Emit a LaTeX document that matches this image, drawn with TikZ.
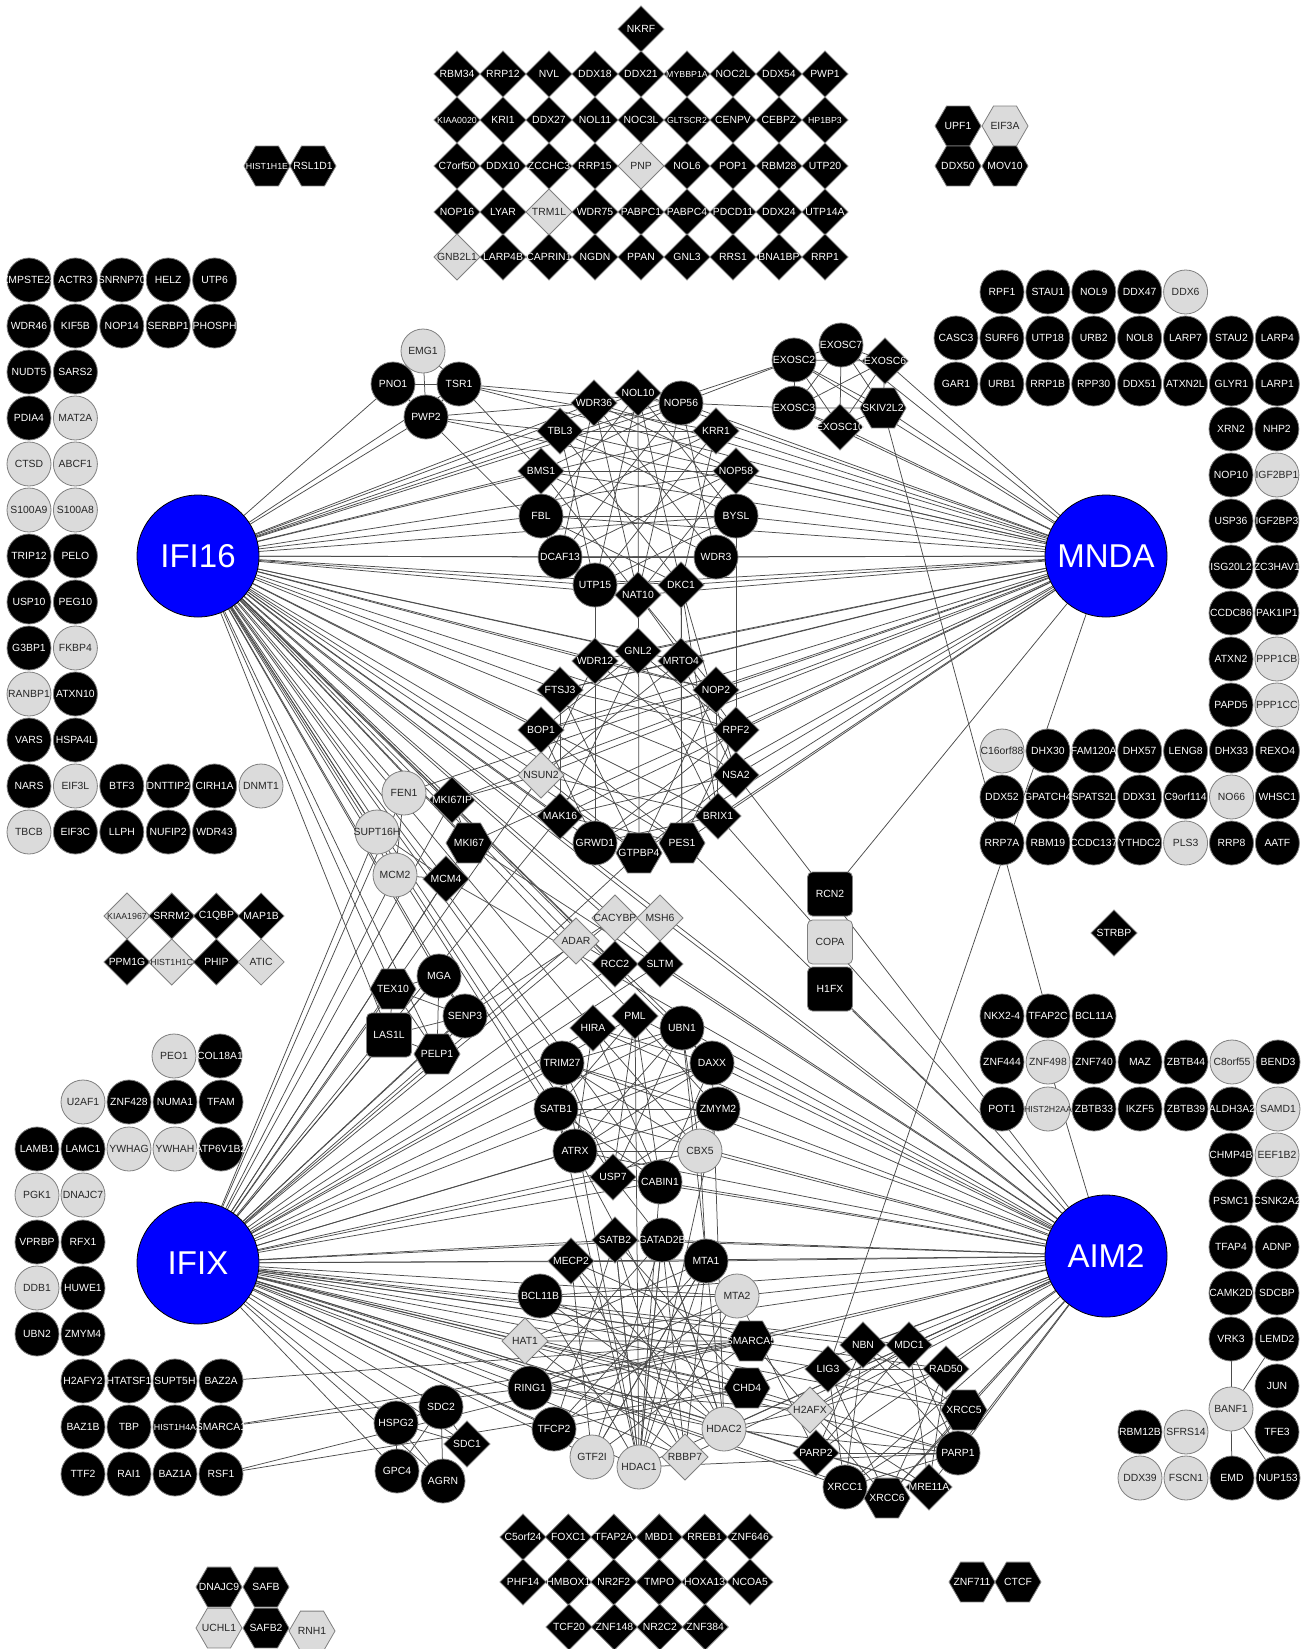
\documentclass[tikz,border=0pt]{standalone}
\usepackage{fontspec}
\setmainfont{Liberation Sans}
\usetikzlibrary{shapes.geometric}
\pgfdeclarelayer{edges}
\pgfsetlayers{edges,main}

\begin{document}
\begin{tikzpicture}[x=1pt, y=-1pt, font=\fontsize{10.4}{12}\selectfont]

% ---- Define Styles ----
\tikzset{
  gene/.style={draw=black!50, line width=0.8pt, inner sep=0pt, outer sep=0pt},
  onB/.style={gene, fill=black, text=white},
  onG/.style={gene, fill=gray!28, text=black!85},
  lsmall/.style={font=\fontsize{8.8}{10}\selectfont},
  circB/.style={onB, circle, minimum size=44},
  circG/.style={onG, circle, minimum size=44},
  circGs/.style={circG, lsmall},
  circBs/.style={circB, lsmall},
  diaB/.style={onB, diamond, aspect=1, minimum size=46},
  diaG/.style={onG, diamond, aspect=1, minimum size=46},
  diaBs/.style={diaB, lsmall},
  diaGs/.style={diaG, lsmall},
  hexB/.style={onB, regular polygon, regular polygon sides=6, minimum size=46},
  hexG/.style={onG, regular polygon, regular polygon sides=6, minimum size=46},
  hexBs/.style={hexB, lsmall},
  sqB/.style={onB, rectangle, rounded corners=5pt, minimum width=45, minimum height=44},
  sqG/.style={onG, rectangle, rounded corners=5pt, minimum width=45, minimum height=44},
  hub/.style={circle, draw=black, line width=0.8pt, fill=blue, text=white,
    minimum size=122, inner sep=0pt, font=\fontsize{33}{36}\selectfont},
  link/.style={draw=black!70, line width=0.75pt}
}

% label with no width, so the shape keeps its size
\newcommand{\lbl}[1]{\makebox[0pt]{#1}}
% one row of genes: [step]{x0}{y}{name/style, ...}
\newcommand{\generow}[4][46]{%
  \foreach \nm/\st [count=\i from 0] in {#4}
    \node[\st] (\nm) at (#2+#1*\i, #3) {\lbl{\nm}};%
}

\useasboundingbox (0,0) rectangle (1313,1649);

% =========================================================
% HUBS
% =========================================================
\node[hub] (IFI16) at (198, 556) {IFI16};
\node[hub] (MNDA) at (1106, 556) {MNDA};
\node[hub] (IFIX) at (198, 1263) {IFIX};
\node[hub] (AIM2) at (1106, 1256) {AIM2};

% =========================================================
% TOP LEFT BLOCK
% =========================================================
\generow[46.4]{29}{280}{ZMPSTE24/circB, ACTR3/circB, SNRNP70/circB, HELZ/circB, UTP6/circB}
\generow[46.4]{29}{326}{WDR46/circB, KIF5B/circB, NOP14/circB, SERBP1/circB, PHOSPH/circB}
\generow[46.4]{29}{372}{NUDT5/circB, SARS2/circB}
\generow[46.4]{29}{418}{PDIA4/circB, MAT2A/circG}
\generow[46.4]{29}{464}{CTSD/circG, ABCF1/circG}
\generow[46.4]{29}{510}{S100A9/circG, S100A8/circG}
\generow[46.4]{29}{556}{TRIP12/circB, PELO/circB}
\generow[46.4]{29}{602}{USP10/circB, PEG10/circB}
\generow[46.4]{29}{648}{G3BP1/circB, FKBP4/circG}
\generow[46.4]{29}{694}{RANBP1/circG, ATXN10/circB}
\generow[46.4]{29}{740}{VARS/circB, HSPA4L/circB}
\generow[46.4]{29}{786}{NARS/circB, EIF3L/circG, BTF3/circB, DNTTIP2/circB, CIRH1A/circB, DNMT1/circG}
\generow[46.4]{29}{832}{TBCB/circG, EIF3C/circB, LLPH/circB, NUFIP2/circB, WDR43/circB}

% =========================================================
% TOP DIAMOND BLOCK
% =========================================================
\node[diaB] (NKRF) at (641, 29) {\lbl{NKRF}};
\generow{457}{74}{RBM34/diaB, RRP12/diaB, NVL/diaB, DDX18/diaB, DDX21/diaB, MYBBP1A/diaBs, NOC2L/diaB, DDX54/diaB, PWP1/diaB}
\generow{457}{120}{KIAA0020/diaBs, KRI1/diaB, DDX27/diaB, NOL11/diaB, NOC3L/diaB, GLTSCR2/diaBs, CENPV/diaB, CEBPZ/diaB, HP1BP3/diaBs}
\generow{457}{166}{C7orf50/diaB, DDX10/diaB, ZCCHC3/diaB, RRP15/diaB, PNP/diaG, NOL6/diaB, POP1/diaB, RBM28/diaB, UTP20/diaB}
\generow{457}{212}{NOP16/diaB, LYAR/diaB, TRM1L/diaG, WDR75/diaB, PABPC1/diaB, PABPC4/diaB, PDCD11/diaB, DDX24/diaB, UTP14A/diaB}
\generow{457}{257}{GNB2L1/diaG, LARP4B/diaB, CAPRIN1/diaB, NGDN/diaB, PPAN/diaB, GNL3/diaB, RRS1/diaB, BNA1BP/diaB, RRP1/diaB}

% small hexagon groups
\node[hexBs] (HIST1H1E) at (267, 166) {\lbl{HIST1H1E}};
\node[hexB] (RSL1D1) at (313, 166) {\lbl{RSL1D1}};
\node[hexB] (UPF1) at (958, 126) {\lbl{UPF1}};
\node[hexG] (EIF3A) at (1005, 126) {\lbl{EIF3A}};
\node[hexB] (DDX50) at (958, 166) {\lbl{DDX50}};
\node[hexB] (MOV10) at (1005, 166) {\lbl{MOV10}};

% =========================================================
% TOP RIGHT BLOCK
% =========================================================
\generow[45.9]{1002}{292}{RPF1/circB, STAU1/circB, NOL9/circB, DDX47/circB, DDX6/circG}
\generow[45.9]{956}{338}{CASC3/circB, SURF6/circB, UTP18/circB, URB2/circB, NOL8/circB, LARP7/circB, STAU2/circB, LARP4/circB}
\generow[45.9]{956}{384}{GAR1/circB, URB1/circB, RRP1B/circB, RPP30/circB, DDX51/circB, ATXN2L/circB, GLYR1/circB, LARP1/circB}
\generow[45.9]{1231}{429}{XRN2/circB, NHP2/circB}
\generow[45.9]{1231}{475}{NOP10/circB, IGF2BP1/circG}
\generow[45.9]{1231}{521}{USP36/circB, IGF2BP3/circB}
\generow[45.9]{1231}{567}{ISG20L2/circB, ZC3HAV1/circB}
\generow[45.9]{1231}{613}{CCDC86/circB, PAK1IP1/circB}
\generow[45.9]{1231}{659}{ATXN2/circB, PPP1CB/circG}
\generow[45.9]{1231}{705}{PAPD5/circB, PPP1CC/circG}
\generow[45.9]{1002}{751}{C16orf88/circG, DHX30/circB, FAM120A/circB, DHX57/circB, LENG8/circB, DHX33/circB, REXO4/circB}
\generow[45.9]{1002}{797}{DDX52/circB, GPATCH4/circB, SPATS2L/circB, DDX31/circB, C9orf114/circB, NO66/circG, WHSC1/circB}
\generow[45.9]{1002}{843}{RRP7A/circB, RBM19/circB, CCDC137/circB, YTHDC2/circB, PLS3/circG, RRP8/circB, AATF/circB}

\node[diaB] (STRBP) at (1114, 933) {\lbl{STRBP}};

% =========================================================
% BOTTOM RIGHT BLOCK
% =========================================================
\generow{1002}{1016}{NKX2-4/circB, TFAP2C/circB, BCL11A/circB}
\generow{1002}{1062}{ZNF444/circB, ZNF498/circG, ZNF740/circB, MAZ/circB, ZBTB44/circB, C8orf55/circG, BEND3/circB}
\generow{1002}{1109}{POT1/circB, HIST2H2AA/circGs, ZBTB33/circB, IKZF5/circB, ZBTB39/circB, ALDH3A2/circB, SAMD1/circG}
\generow{1231}{1155}{CHMP4B/circB, EEF1B2/circG}
\generow{1231}{1201}{PSMC1/circB, CSNK2A2/circB}
\generow{1231}{1247}{TFAP4/circB, ADNP/circB}
\generow{1231}{1293}{CAMK2D/circB, SDCBP/circB}
\generow{1231}{1339}{VRK3/circB, LEMD2/circB}
\node[circB] (JUN) at (1277, 1386) {\lbl{JUN}};
\node[circG] (BANF1) at (1231, 1409) {\lbl{BANF1}};
\node[circB] (RBM12B) at (1140, 1432) {\lbl{RBM12B}};
\node[circG] (SFRS14) at (1186, 1432) {\lbl{SFRS14}};
\node[circB] (TFE3) at (1277, 1432) {\lbl{TFE3}};
\generow{1140}{1478}{DDX39/circG, FSCN1/circG, EMD/circB, NUP153/circB}

\node[hexB] (ZNF711) at (972, 1582) {\lbl{ZNF711}};
\node[hexB] (CTCF) at (1018, 1582) {\lbl{CTCF}};

% =========================================================
% LEFT LOWER BLOCK
% =========================================================
\generow[44.7]{127}{916}{KIAA1967/diaGs, SRRM2/diaB, C1QBP/diaB, MAP1B/diaB}
\generow[44.7]{127}{962}{PPM1G/diaB, HIST1H1C/diaGs, PHIP/diaB, ATIC/diaG}
\generow{174}{1056}{PEO1/circG, COL18A1/circB}
\generow{83}{1102}{U2AF1/circG, ZNF428/circB, NUMA1/circB, TFAM/circB}
\generow{37}{1149}{LAMB1/circB, LAMC1/circB, YWHAG/circG, YWHAH/circG, ATP6V1B2/circB}
\generow{37}{1195}{PGK1/circG, DNAJC7/circG}
\generow{37}{1242}{VPRBP/circB, RFX1/circB}
\generow{37}{1288}{DDB1/circG, HUWE1/circB}
\generow{37}{1334}{UBN2/circB, ZMYM4/circB}
\generow{83}{1381}{H2AFY2/circB, HTATSF1/circB, SUPT5H/circB, BAZ2A/circB}
\generow{83}{1427}{BAZ1B/circB, TBP/circB, HIST1H4A/circBs, SMARCA1/circB}
\generow{83}{1474}{TTF2/circB, RAI1/circB, BAZ1A/circB, RSF1/circB}

\node[hexB] (DNAJC9) at (219, 1587) {\lbl{DNAJC9}};
\node[hexB] (SAFB) at (266, 1587) {\lbl{SAFB}};
\node[hexG] (UCHL1) at (219, 1628) {\lbl{UCHL1}};
\node[hexB] (SAFB2) at (266, 1628) {\lbl{SAFB2}};
\node[hexG] (RNH1) at (312, 1631) {\lbl{RNH1}};

% bottom diamond block
\generow[45.4]{523}{1537}{C5orf24/diaB, FOXC1/diaB, TFAP2A/diaB, MBD1/diaB, RREB1/diaB, ZNF646/diaB}
\generow[45.4]{523}{1582}{PHF14/diaB, HMBOX1/diaB, NR2F2/diaB, TMPO/diaB, HOXA13/diaB, NCOA5/diaB}
\generow[45.4]{569}{1627}{TCF20/diaB, ZNF148/diaB, NR2C2/diaB, ZNF384/diaB}

% =========================================================
% CENTRE: NUCLEOLAR GROUPS
% =========================================================
\node[circG] (EMG1) at (423, 351) {\lbl{EMG1}};
\node[circB] (PNO1) at (393, 384) {\lbl{PNO1}};
\node[circB] (TSR1) at (459, 384) {\lbl{TSR1}};
\node[circB] (PWP2) at (426, 417) {\lbl{PWP2}};

\node[circB] (EXOSC2) at (794, 360) {\lbl{EXOSC2}};
\node[circB] (EXOSC7) at (841, 345) {\lbl{EXOSC7}};
\node[diaB] (EXOSC6) at (885, 361) {\lbl{EXOSC6}};
\node[circB] (EXOSC3) at (794, 408) {\lbl{EXOSC3}};
\node[hexB] (SKIV2L2) at (883, 408) {\lbl{SKIV2L2}};
\node[diaB] (EXOSC10) at (840, 427) {\lbl{EXOSC10}};

% ring A
\node[diaB, alias=ra0] (NOL10) at (638, 393) {\lbl{NOL10}};
\node[circB, alias=ra1] (NOP56) at (681, 403) {\lbl{NOP56}};
\node[diaB, alias=ra2] (KRR1) at (716, 431) {\lbl{KRR1}};
\node[diaB, alias=ra3] (NOP58) at (736, 471) {\lbl{NOP58}};
\node[circB, alias=ra4] (BYSL) at (736, 516) {\lbl{BYSL}};
\node[circB, alias=ra5] (WDR3) at (716, 557) {\lbl{WDR3}};
\node[diaB, alias=ra6] (DKC1) at (681, 585) {\lbl{DKC1}};
\node[diaB, alias=ra7] (NAT10) at (638, 595) {\lbl{NAT10}};
\node[circB, alias=ra8] (UTP15) at (595, 585) {\lbl{UTP15}};
\node[circB, alias=ra9] (DCAF13) at (560, 557) {\lbl{DCAF13}};
\node[circB, alias=ra10] (FBL) at (541, 516) {\lbl{FBL}};
\node[diaB, alias=ra11] (BMS1) at (541, 471) {\lbl{BMS1}};
\node[diaB, alias=ra12] (TBL3) at (560, 431) {\lbl{TBL3}};
\node[diaB, alias=ra13] (WDR36) at (594, 403) {\lbl{WDR36}};

% ring B
\node[diaB, alias=rb0] (GNL2) at (638, 651) {\lbl{GNL2}};
\node[diaB, alias=rb1] (MRTO4) at (681, 661) {\lbl{MRTO4}};
\node[diaB, alias=rb2] (NOP2) at (716, 690) {\lbl{NOP2}};
\node[diaB, alias=rb3] (RPF2) at (736, 730) {\lbl{RPF2}};
\node[diaB, alias=rb4] (NSA2) at (736, 775) {\lbl{NSA2}};
\node[diaB, alias=rb5] (BRIX1) at (718, 816) {\lbl{BRIX1}};
\node[hexB, alias=rb6] (PES1) at (682, 843) {\lbl{PES1}};
\node[hexB, alias=rb7] (GTPBP4) at (639, 853) {\lbl{GTPBP4}};
\node[circB, alias=rb8] (GRWD1) at (595, 843) {\lbl{GRWD1}};
\node[diaB, alias=rb9] (MAK16) at (560, 816) {\lbl{MAK16}};
\node[diaG, alias=rb10] (NSUN2) at (541, 775) {\lbl{NSUN2}};
\node[diaB, alias=rb11] (BOP1) at (541, 730) {\lbl{BOP1}};
\node[diaB, alias=rb12] (FTSJ3) at (560, 690) {\lbl{FTSJ3}};
\node[diaB, alias=rb13] (WDR12) at (595, 661) {\lbl{WDR12}};

% left of ring B
\node[circG] (FEN1) at (404, 793) {\lbl{FEN1}};
\node[diaB] (MKI67IP) at (452, 800) {\lbl{MKI67IP}};
\node[circG] (SUPT16H) at (377, 832) {\lbl{SUPT16H}};
\node[hexB] (MKI67) at (469, 843) {\lbl{MKI67}};
\node[circG] (MCM2) at (395, 875) {\lbl{MCM2}};
\node[diaB] (MCM4) at (446, 879) {\lbl{MCM4}};

\node[hexB] (TEX10) at (393, 989) {\lbl{TEX10}};
\node[circB] (MGA) at (439, 976) {\lbl{MGA}};
\node[sqB] (LAS1L) at (389, 1035) {\lbl{LAS1L}};
\node[circB] (SENP3) at (465, 1016) {\lbl{SENP3}};
\node[hexB] (PELP1) at (437, 1054) {\lbl{PELP1}};

% middle singles
\node[diaG] (CACYBP) at (615, 918) {\lbl{CACYBP}};
\node[diaG] (MSH6) at (660, 918) {\lbl{MSH6}};
\node[diaG] (ADAR) at (576, 941) {\lbl{ADAR}};
\node[diaB] (RCC2) at (615, 964) {\lbl{RCC2}};
\node[diaB] (SLTM) at (660, 964) {\lbl{SLTM}};
\node[sqB] (RCN2) at (830, 894) {\lbl{RCN2}};
\node[sqG] (COPA) at (830, 942) {\lbl{COPA}};
\node[sqB] (H1FX) at (830, 989) {\lbl{H1FX}};

% =========================================================
% CENTRE: CHROMATIN GROUPS
% =========================================================
% ring C
\node[diaB, alias=rc0] (PML) at (635, 1016) {\lbl{PML}};
\node[circB, alias=rc1] (UBN1) at (682, 1028) {\lbl{UBN1}};
\node[circB, alias=rc2] (DAXX) at (712, 1063) {\lbl{DAXX}};
\node[circB, alias=rc3] (ZMYM2) at (718, 1109) {\lbl{ZMYM2}};
\node[circG, alias=rc4] (CBX5) at (700, 1151) {\lbl{CBX5}};
\node[circB, alias=rc5] (CABIN1) at (660, 1182) {\lbl{CABIN1}};
\node[diaB, alias=rc6] (USP7) at (613, 1177) {\lbl{USP7}};
\node[circB, alias=rc7] (ATRX) at (575, 1151) {\lbl{ATRX}};
\node[circB, alias=rc8] (SATB1) at (556, 1109) {\lbl{SATB1}};
\node[circB, alias=rc9] (TRIM27) at (562, 1063) {\lbl{TRIM27}};
\node[diaB, alias=rc10] (HIRA) at (593, 1028) {\lbl{HIRA}};

% ring D
\node[diaB, alias=rd0] (SATB2) at (615, 1240) {\lbl{SATB2}};
\node[circB, alias=rd1] (GATAD2B) at (662, 1240) {\lbl{GATAD2B}};
\node[circB, alias=rd2] (MTA1) at (706, 1261) {\lbl{MTA1}};
\node[circG, alias=rd3] (MTA2) at (737, 1296) {\lbl{MTA2}};
\node[hexB, alias=rd4] (SMARCA5) at (751, 1341) {\lbl{SMARCA5}};
\node[hexB, alias=rd5] (CHD4) at (747, 1388) {\lbl{CHD4}};
\node[circG, alias=rd6] (HDAC2) at (724, 1429) {\lbl{HDAC2}};
\node[diaG, alias=rd7] (RBBP7) at (685, 1457) {\lbl{RBBP7}};
\node[circG, alias=rd8] (HDAC1) at (639, 1467) {\lbl{HDAC1}};
\node[circG, alias=rd9] (GTF2I) at (592, 1457) {\lbl{GTF2I}};
\node[circB, alias=rd10] (TFCP2) at (554, 1429) {\lbl{TFCP2}};
\node[circB, alias=rd11] (RING1) at (530, 1388) {\lbl{RING1}};
\node[diaG, alias=rd12] (HAT1) at (525, 1341) {\lbl{HAT1}};
\node[circB, alias=rd13] (BCL11B) at (540, 1296) {\lbl{BCL11B}};
\node[diaB, alias=rd14] (MECP2) at (571, 1261) {\lbl{MECP2}};

\node[circB] (SDC2) at (441, 1407) {\lbl{SDC2}};
\node[circB] (HSPG2) at (396, 1423) {\lbl{HSPG2}};
\node[diaB] (SDC1) at (467, 1444) {\lbl{SDC1}};
\node[circB] (GPC4) at (397, 1471) {\lbl{GPC4}};
\node[circB] (AGRN) at (443, 1481) {\lbl{AGRN}};

% ring E
\node[diaB, alias=re0] (NBN) at (863, 1345) {\lbl{NBN}};
\node[diaB, alias=re1] (MDC1) at (909, 1345) {\lbl{MDC1}};
\node[diaB, alias=re2] (RAD50) at (946, 1369) {\lbl{RAD50}};
\node[hexB, alias=re3] (XRCC5) at (964, 1410) {\lbl{XRCC5}};
\node[circB, alias=re4] (PARP1) at (958, 1453) {\lbl{PARP1}};
\node[diaB, alias=re5] (MRE11A) at (929, 1487) {\lbl{MRE11A}};
\node[hexB, alias=re6] (XRCC6) at (887, 1498) {\lbl{XRCC6}};
\node[circB, alias=re7] (XRCC1) at (845, 1487) {\lbl{XRCC1}};
\node[diaB, alias=re8] (PARP2) at (816, 1453) {\lbl{PARP2}};
\node[diaG, alias=re9] (H2AFX) at (810, 1410) {\lbl{H2AFX}};
\node[diaB, alias=re10] (LIG3) at (828, 1369) {\lbl{LIG3}};

% =========================================================
% CONNECTORS (behind the nodes)
% =========================================================
\begin{pgfonlayer}{edges}
\fill[white] (0,0) rectangle (1313,1649);

% hub fans
\foreach \t in {PNO1, PWP2, TSR1, WDR36, NOL10, NOP56, TBL3, KRR1, BMS1, NOP58, FBL, BYSL,
  DCAF13, WDR3, UTP15, NAT10, DKC1, EXOSC2, GNL2, WDR12, MRTO4, FTSJ3, NOP2, BOP1, RPF2,
  NSUN2, NSA2, MAK16, BRIX1, GRWD1, GTPBP4, PES1, FEN1, MKI67IP, SUPT16H, MCM2, MCM4, MKI67,
  TEX10, MGA, LAS1L, SENP3, PELP1, CACYBP, ADAR, RCC2, MSH6, SLTM, HIRA, TRIM27, SATB1,
  ATRX, USP7, CABIN1, PML, UBN1, DAXX, AIM2}
  \draw[link] (IFI16) -- (\t);
\foreach \t in {TSR1, PWP2, EXOSC2, EXOSC7, EXOSC6, EXOSC3, EXOSC10, SKIV2L2, WDR36, NOL10,
  NOP56, TBL3, KRR1, BMS1, NOP58, FBL, BYSL, DCAF13, WDR3, UTP15, NAT10, DKC1, GNL2, WDR12,
  MRTO4, FTSJ3, NOP2, BOP1, RPF2, NSUN2, NSA2, MAK16, BRIX1, GRWD1, GTPBP4, PES1, MKI67IP,
  MKI67, FEN1, RCN2, LIG3}
  \draw[link] (MNDA) -- (\t);
\foreach \t in {FEN1, SUPT16H, MCM2, MKI67IP, MCM4, MKI67, TEX10, MGA, LAS1L, SENP3, PELP1,
  ADAR, CACYBP, RCC2, SLTM, NSUN2, MAK16, GTPBP4, HIRA, PML, UBN1, TRIM27, SATB1, ATRX, USP7,
  CABIN1, DAXX, ZMYM2, CBX5, SATB2, GATAD2B, MECP2, MTA1, BCL11B, MTA2, HAT1, SMARCA5, RING1,
  CHD4, TFCP2, HDAC2, GTF2I, HDAC1, RBBP7, SDC2, HSPG2, SDC1, GPC4, AGRN, LIG3, NBN, MDC1,
  H2AFX, PARP2, XRCC1, XRCC6, PARP1, XRCC5, RAD50, MRE11A}
  \draw[link] (IFIX) -- (\t);
\foreach \t in {H1FX, ZNF498, MSH6, SLTM, PES1, BRIX1, NSA2, HIRA, PML, UBN1, DAXX, ZMYM2,
  CBX5, CABIN1, USP7, ATRX, SATB1, TRIM27, SATB2, GATAD2B, MTA1, MTA2, MECP2, BCL11B,
  SMARCA5, CHD4, HDAC2, RBBP7, HDAC1, RING1, HAT1, NBN, MDC1, LIG3, RAD50, XRCC5, PARP1,
  H2AFX, PARP2, XRCC1, XRCC6, MRE11A, MKI67, MCM4}
  \draw[link] (AIM2) -- (\t);

% ring meshes
\foreach \i in {0,...,13}{
  \foreach \d in {4,6}{
    \pgfmathtruncatemacro{\j}{mod(\i+\d,14)}
    \draw[link] (ra\i) -- (ra\j);
  }
}
\foreach \i in {0,...,13}{
  \foreach \d in {3,5}{
    \pgfmathtruncatemacro{\j}{mod(\i+\d,14)}
    \draw[link] (rb\i) -- (rb\j);
  }
}
\foreach \i in {0,...,10}{
  \foreach \d in {3,5}{
    \pgfmathtruncatemacro{\j}{mod(\i+\d,11)}
    \draw[link] (rc\i) -- (rc\j);
  }
}
\foreach \i in {0,...,14}{
  \foreach \d in {5,7}{
    \pgfmathtruncatemacro{\j}{mod(\i+\d,15)}
    \draw[link] (rd\i) -- (rd\j);
  }
}
\foreach \i in {0,...,10}{
  \foreach \d in {3,4}{
    \pgfmathtruncatemacro{\j}{mod(\i+\d,11)}
    \draw[link] (re\i) -- (re\j);
  }
}

% other links
\foreach \a/\b in {EMG1/PNO1, EMG1/TSR1, EMG1/PWP2, PNO1/TSR1, PNO1/PWP2, TSR1/PWP2,
  TSR1/BMS1, TSR1/NOP56, TSR1/KRR1, PWP2/WDR36, PWP2/UTP15, PWP2/TBL3,
  EXOSC2/EXOSC7, EXOSC2/EXOSC6, EXOSC2/EXOSC3, EXOSC2/SKIV2L2, EXOSC2/EXOSC10,
  EXOSC7/EXOSC6, EXOSC7/EXOSC3, EXOSC7/EXOSC10, EXOSC7/SKIV2L2, EXOSC6/EXOSC3,
  EXOSC6/EXOSC10, EXOSC6/SKIV2L2, EXOSC3/SKIV2L2, EXOSC3/EXOSC10, SKIV2L2/EXOSC10,
  EXOSC2/NOP56, EXOSC3/NOP56, SKIV2L2/TFAP2C,
  NOL10/GTPBP4, DKC1/PES1, NAT10/GNL2, DKC1/MRTO4, DKC1/NSA2, DKC1/BRIX1, NAT10/RPF2,
  NAT10/NOP2, UTP15/WDR12, BYSL/NSA2,
  MCM2/MCM4, SUPT16H/MCM4, FEN1/MCM2, MKI67IP/MKI67, MKI67IP/NSUN2,
  TEX10/MGA, TEX10/LAS1L, TEX10/SENP3, TEX10/PELP1, LAS1L/MGA, LAS1L/SENP3, LAS1L/PELP1,
  MGA/SENP3, SENP3/PELP1, MGA/PELP1, SENP3/CACYBP, ADAR/RCC2,
  PML/HDAC1, DAXX/HDAC2, CABIN1/HDAC1, ATRX/HDAC2, CBX5/MTA1, ZMYM2/HDAC1, SATB1/HDAC1,
  USP7/GATAD2B, TRIM27/HDAC1, UBN1/HDAC2, GATAD2B/HDAC1, GATAD2B/RBBP7, MTA1/HDAC1,
  MTA1/GTF2I, SATB2/HDAC1, GATAD2B/HDAC2,
  HDAC2/H2AFX, HDAC2/PARP1, SMARCA5/H2AFX, CHD4/PARP1, RING1/H2AFX, HDAC1/PARP1,
  MTA2/PARP2, BAZ2A/SMARCA5, SMARCA1/SMARCA5, SMARCA1/RING1, RSF1/SMARCA5, RSF1/CHD4,
  HSPG2/SDC2, HSPG2/GPC4, HSPG2/AGRN, HSPG2/SDC1, SDC2/AGRN, SDC2/SDC1, GPC4/SDC2,
  VRK3/BANF1, LEMD2/BANF1, BANF1/EMD, BANF1/NUP153}
  \draw[link] (\a) -- (\b);
\end{pgfonlayer}

\end{tikzpicture}
\end{document}
